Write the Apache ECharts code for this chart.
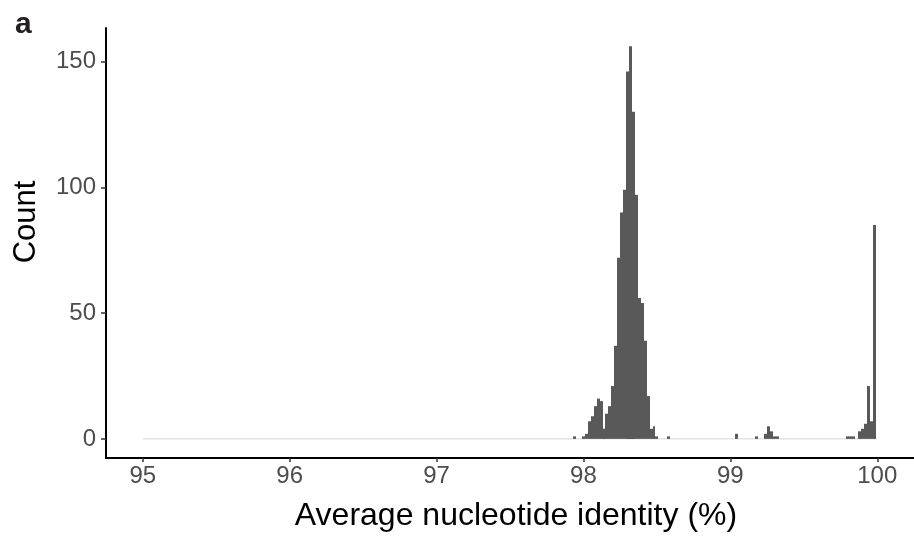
<!DOCTYPE html>
<html>
<head>
<meta charset="utf-8">
<script src="https://cdn.jsdelivr.net/npm/echarts@6/dist/echarts.min.js"></script>
<style>
  html, body { margin: 0; padding: 0; background: #ffffff; }
  #chart { width: 914px; height: 541px; }
</style>
</head>
<body>
<div id="chart"></div>
<script>
// ---- data (bin width 0.02) ----
var binWidth = 0.02;
var binCenters = [97.94, 98.00, 98.02, 98.04, 98.06, 98.08, 98.10, 98.12, 98.14, 98.16,
                  98.18, 98.20, 98.22, 98.24, 98.26, 98.28, 98.30, 98.32, 98.34, 98.36,
                  98.38, 98.40, 98.42, 98.44, 98.46, 98.48, 98.50, 98.58,
                  99.04, 99.18, 99.24, 99.26, 99.28, 99.30, 99.32,
                  99.80, 99.82, 99.84, 99.88, 99.90, 99.92, 99.94, 99.96, 99.98];
var counts = [1, 1, 2, 7, 9, 13, 16, 15, 4, 10,
              13, 21, 37, 72, 90, 99, 146, 156, 130, 97,
              56, 54, 39, 17, 4, 5, 1, 1,
              2, 1, 2, 5, 3, 1, 1,
              1, 1, 1, 3, 4, 6, 21, 7, 85];
var zeroLineRange = [95, 100];
var xTickValues = [95, 96, 97, 98, 99, 100];
var yTickValues = [0, 50, 100, 150];
var xTitle = 'Average nucleotide identity (%)';
var yTitle = 'Count';
var panelLabel = 'a';

var barData = binCenters.map(function (c, i) { return [c, counts[i]]; });
var zeroLine = zeroLineRange.map(function (v) { return [v, 0]; });

var FONT = '"Liberation Sans", Arial, Helvetica, sans-serif';
var chart = echarts.init(document.getElementById('chart'), null, { renderer: 'canvas' });
chart.setOption({
  animation: false,
  backgroundColor: '#ffffff',
  title: {
    text: panelLabel, left: 10, top: 5,
    textStyle: { fontFamily: FONT, fontSize: 30, fontWeight: 'bold', color: '#231f20' }
  },
  graphic: [
    {
      type: 'text', x: 516, y: 516, z: 10,
      style: { text: xTitle, font: '32px ' + FONT, fill: '#000000', align: 'center', verticalAlign: 'middle' }
    },
    {
      type: 'text', x: 26, y: 222, rotation: Math.PI / 2, z: 10,
      style: { text: yTitle, font: '31px ' + FONT, fill: '#000000', align: 'center', verticalAlign: 'middle' }
    }
  ],
  grid: { left: 106, top: 28, width: 810, height: 430, containLabel: false },
  xAxis: {
    type: 'value', min: 94.75, max: 100.25,
    splitLine: { show: false },
    axisLine: { show: true, onZero: false, lineStyle: { color: '#000000', width: 2 } },
    axisTick: { show: true, customValues: xTickValues, length: 4, lineStyle: { color: '#333333', width: 1.5 } },
    axisLabel: { customValues: xTickValues, margin: 6, fontFamily: FONT, fontSize: 24, color: '#4d4d4d' }
  },
  yAxis: {
    type: 'value', min: -7.6, max: 163.3,
    splitLine: { show: false },
    axisLine: { show: true, onZero: false, lineStyle: { color: '#000000', width: 2 } },
    axisTick: { show: true, customValues: yTickValues, length: 5, lineStyle: { color: '#333333', width: 1.5 } },
    axisLabel: { customValues: yTickValues, margin: 10, fontFamily: FONT, fontSize: 24, color: '#4d4d4d' }
  },
  series: [
    {
      type: 'line', data: zeroLine, symbol: 'none', silent: true, z: 1,
      lineStyle: { color: '#d6d6d6', width: 1 }
    },
    {
      type: 'custom', data: barData, z: 2,
      renderItem: function (params, api) {
        var c = api.value(0), n = api.value(1);
        var p0 = api.coord([c - binWidth / 2, n]);
        var p1 = api.coord([c + binWidth / 2, 0]);
        var x0 = Math.round(p0[0]), x1 = Math.round(p1[0]);
        return {
          type: 'rect',
          shape: { x: x0, y: p0[1], width: x1 - x0, height: p1[1] - p0[1] },
          style: { fill: '#595959' }
        };
      }
    }
  ]
});
</script>
</body>
</html>
